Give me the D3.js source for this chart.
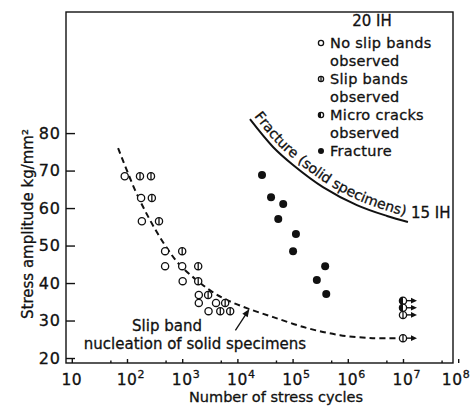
<!DOCTYPE html>
<html>
<head>
<meta charset="utf-8">
<script src="https://cdn.jsdelivr.net/npm/d3@7"></script>
<style>
    body { margin: 0; background: #fff; }
    text { font-family: "DejaVu Sans", sans-serif; fill: #111; stroke: #111; stroke-width: 0.3px; }
</style>
</head>
<body>
<div id="chart"></div>
<script>

// ---- data (n = number of cycles, s = stress amplitude kg/mm2) ----
let noSlipBands = [
    {n: 91, s: 68.5}, {n: 180, s: 62.7}, {n: 186, s: 56.5},
    {n: 490, s: 48.5}, {n: 490, s: 44.5}, {n: 1000, s: 44.5},
    {n: 1020, s: 40.5}, {n: 2000, s: 36.8}, {n: 2000, s: 34.7},
    {n: 4100, s: 34.7}, {n: 3000, s: 32.5}
];

let slipBands = [
    {n: 172, s: 68.5}, {n: 272, s: 68.5}, {n: 282, s: 62.7},
    {n: 380, s: 56.5}, {n: 1000, s: 48.5}, {n: 1950, s: 44.5},
    {n: 1950, s: 40.5}, {n: 2950, s: 36.8}, {n: 6000, s: 34.7},
    {n: 4900, s: 32.5}, {n: 7400, s: 32.5},
    {n: 1e7, s: 31.5, runout: true}, {n: 1e7, s: 25.3, runout: true}
];

let microCracks = [
    {n: 1e7, s: 35.3, runout: true}, {n: 1e7, s: 33.4, runout: true}
];

let fracture = [
    {n: 27900, s: 68.8}, {n: 40700, s: 62.9}, {n: 67600, s: 61.1},
    {n: 55000, s: 57.1}, {n: 115000, s: 53.1}, {n: 102000, s: 48.5},
    {n: 389000, s: 44.5}, {n: 275000, s: 40.8}, {n: 407000, s: 37.1}
];

// slip band nucleation curve (dashed)
let nucleationCurve = [
    {n: 69, s: 76.0}, {n: 140, s: 64.8}, {n: 261, s: 56.8}, {n: 488, s: 50.1},
    {n: 912, s: 44.8}, {n: 3160, s: 38.1}, {n: 6460, s: 35.5}, {n: 14800, s: 33.3},
    {n: 44700, s: 30.9}, {n: 182000, s: 28.0}, {n: 724000, s: 26.1},
    {n: 2820000, s: 25.3}, {n: 8500000, s: 25.3}
];

// fracture curve of solid specimens (15 IH)
let fractureCurve = [
    {n: 16900, s: 83.7}, {n: 44200, s: 76.3}, {n: 102000, s: 71.5},
    {n: 355000, s: 65.6}, {n: 1460000, s: 60.8}, {n: 5130000, s: 57.9},
    {n: 12300000, s: 56.3}
];

let yTicks = [20, 30, 40, 50, 60, 70, 80];
let xExponents = [1, 2, 3, 4, 5, 6, 7, 8];
let xMinorTicks = [50, 500, 5000, 50000, 500000, 5000000, 50000000];

let legendItems = [
    {type: "open", lines: ["No slip bands", "observed"]},
    {type: "slip", lines: ["Slip bands", "observed"]},
    {type: "micro", lines: ["Micro cracks", "observed"]},
    {type: "fracture", lines: ["Fracture"]}
];


let margin = {top: 12, right: 22, bottom: 43, left: 66};
let width = 475 - margin.left - margin.right;
let height = 406 - margin.top - margin.bottom;

let svg = d3.select("#chart").append("svg")
    .attr("width", 475)
    .attr("height", 406);

let g = svg.append("g")
    .attr("transform", `translate(${margin.left}, ${margin.top})`);

let x = d3.scaleLog()
    .domain([Math.pow(10, 0.895), Math.pow(10, 7.906)])
    .range([0, width]);

let y = d3.scaleLinear()
    .domain([18.67, 112.3])
    .range([height, 0]);

// frame
g.append("rect")
    .attr("width", width)
    .attr("height", height)
    .attr("fill", "none")
    .attr("stroke", "#111")
    .attr("stroke-width", 1.4);

// y axis, ticks pointing inward
let yAxis = g.append("g")
    .call(d3.axisLeft(y).tickValues(yTicks).tickSize(-9).tickPadding(5));
yAxis.select(".domain").remove();
yAxis.selectAll("line").attr("stroke", "#111").attr("stroke-width", 1.4);
yAxis.selectAll("text")
    .attr("font-size", 16)
    .attr("font-family", "DejaVu Sans")
    .attr("fill", "#111")
    .attr("letter-spacing", 1);

// x axis, major + minor ticks pointing inward
let xAxis = g.append("g")
    .attr("transform", `translate(0, ${height})`)
    .call(d3.axisBottom(x).tickValues(xExponents.map(e => Math.pow(10, e))).tickSize(-4).tickFormat(""));
xAxis.select(".domain").remove();
xAxis.selectAll("line").attr("stroke", "#111").attr("stroke-width", 1.4);

let xMinor = g.append("g")
    .attr("transform", `translate(0, ${height})`)
    .call(d3.axisBottom(x).tickValues(xMinorTicks).tickSize(-2.5).tickFormat(""));
xMinor.select(".domain").remove();
xMinor.selectAll("line").attr("stroke", "#111").attr("stroke-width", 1.4);

// x tick labels 10, 10^2 ... 10^8
let xLabels = g.append("g").attr("transform", `translate(0, ${height})`);
xExponents.forEach(e => {
    let px = x(Math.pow(10, e));
    // last label sits against the page edge, as in the figure
    if (e === 8) px -= 6;
    xLabels.append("text")
        .attr("x", px)
        .attr("y", 21.5)
        .attr("text-anchor", "middle")
        .attr("font-size", 15.5)
        .attr("letter-spacing", 0.5)
        .text("10");
    if (e > 1) {
        xLabels.append("text")
            .attr("x", px + 10.5)
            .attr("y", 15)
            .attr("font-size", 11)
            .text(e);
    }
});

// axis titles
svg.append("text")
    .attr("x", 276)
    .attr("y", 402)
    .attr("text-anchor", "middle")
    .attr("font-size", 14.5)
    .text("Number of stress cycles");

svg.append("text")
    .attr("transform", "translate(33, 224) rotate(-90)")
    .attr("text-anchor", "middle")
    .attr("font-size", 15)
    .text("Stress amplitude kg/mm²");


// curves
let line = d3.line()
    .x(d => x(d.n))
    .y(d => y(d.s))
    .curve(d3.curveCatmullRom);

g.append("path")
    .datum(nucleationCurve)
    .attr("d", line)
    .attr("fill", "none")
    .attr("stroke", "#111")
    .attr("stroke-width", 2)
    .attr("stroke-dasharray", "6,4");

let fracPath = g.append("path")
    .datum(fractureCurve)
    .attr("d", line)
    .attr("fill", "none")
    .attr("stroke", "#111")
    .attr("stroke-width", 2);

// curved label above the fracture curve, placed letter by letter
let node = fracPath.node();
let total = node.getTotalLength();
let label = "Fracture (solid specimens)";
let labelLength = 188;
let offset = 5;

let widths = label.split("").map(ch => {
    let t = g.append("text").attr("font-size", 14).text(ch === " " ? "\u00a0" : ch);
    let w = t.node().getComputedTextLength();
    t.remove();
    return w;
});
let natural = d3.sum(widths);
let gap = (labelLength - natural) / (label.length - 1);

let pos = 0;
let fracLabel = g.append("g");
label.split("").forEach((ch, i) => {
    let mid = Math.min(total - 1, pos + widths[i] / 2);
    pos += widths[i] + gap;
    if (ch === " ") return;
    let p = node.getPointAtLength(mid);
    let a = node.getPointAtLength(Math.max(0, mid - 1));
    let b = node.getPointAtLength(Math.min(total, mid + 1));
    let dx = b.x - a.x, dy = b.y - a.y;
    let len = Math.sqrt(dx * dx + dy * dy) || 1;
    let px = p.x + offset * dy / len;
    let py = p.y - offset * dx / len;
    fracLabel.append("text")
        .attr("transform", `translate(${px}, ${py}) rotate(${Math.atan2(dy, dx) * 180 / Math.PI})`)
        .attr("text-anchor", "middle")
        .attr("font-size", 14)
        .text(ch);
});

g.append("text")
    .attr("x", x(12300000) + 3)
    .attr("y", y(56.3) - 4)
    .attr("font-size", 15)
    .text("15 IH");


// markers
function drawMarker(sel, type, cx, cy, r) {
    if (type === "fracture") {
        sel.append("circle").attr("cx", cx).attr("cy", cy).attr("r", r + 0.4).attr("fill", "#111");
        return;
    }
    sel.append("circle").attr("cx", cx).attr("cy", cy).attr("r", r)
        .attr("fill", "#fff").attr("stroke", "#111").attr("stroke-width", 1.3);
    if (type === "slip") {
        sel.append("line").attr("x1", cx).attr("x2", cx).attr("y1", cy - r).attr("y2", cy + r)
            .attr("stroke", "#111").attr("stroke-width", 1.3);
    }
    if (type === "micro") {
        sel.append("path")
            .attr("d", `M${cx},${cy - r} A${r},${r} 0 0 0 ${cx},${cy + r} Z`)
            .attr("fill", "#111");
    }
}

let marks = g.append("g");
[["open", noSlipBands], ["slip", slipBands], ["micro", microCracks], ["fracture", fracture]]
    .forEach(([type, data]) => {
        data.forEach(d => {
            let cx = x(d.n), cy = y(d.s);
            if (d.runout) {
                marks.append("line").attr("x1", cx).attr("x2", cx + 9).attr("y1", cy).attr("y2", cy)
                    .attr("stroke", "#111").attr("stroke-width", 1.4);
                marks.append("path")
                    .attr("d", `M${cx + 8},${cy - 2.8} L${cx + 14},${cy} L${cx + 8},${cy + 2.8} Z`)
                    .attr("fill", "#111");
            }
            drawMarker(marks, type, cx, cy, 3.6);
        });
    });


// annotation for the dashed curve
let head = [x(16500), y(33.1)];
let tail = [x(9200), y(27.4)];
let ang = Math.atan2(head[1] - tail[1], head[0] - tail[0]);
g.append("line")
    .attr("x1", tail[0]).attr("y1", tail[1])
    .attr("x2", head[0] - 5 * Math.cos(ang)).attr("y2", head[1] - 5 * Math.sin(ang))
    .attr("stroke", "#111").attr("stroke-width", 1.3);
g.append("path")
    .attr("d", `M0,0 L-8,-3.2 L-8,3.2 Z`)
    .attr("transform", `translate(${head[0]}, ${head[1]}) rotate(${ang * 180 / Math.PI})`)
    .attr("fill", "#111");

svg.append("text")
    .attr("x", 167)
    .attr("y", 331)
    .attr("text-anchor", "middle")
    .attr("font-size", 15)
    .text("Slip band");

svg.append("text")
    .attr("x", 195)
    .attr("y", 349)
    .attr("text-anchor", "middle")
    .attr("font-size", 15)
    .text("nucleation of solid specimens");


// legend
svg.append("text")
    .attr("x", 372)
    .attr("y", 26)
    .attr("text-anchor", "middle")
    .attr("font-size", 15)
    .text("20 IH");

let legend = svg.append("g");
let rowY = 48;
legendItems.forEach(item => {
    drawMarker(legend, item.type, 321, rowY - 5, 2.6);
    item.lines.forEach((t, i) => {
        legend.append("text")
            .attr("x", 330)
            .attr("y", rowY + i * 17.5)
            .attr("font-size", 14.5)
            .attr("letter-spacing", 0.3)
            .text(t);
    });
    rowY += item.lines.length * 17.5 + 1;
});

</script>
</body>
</html>
